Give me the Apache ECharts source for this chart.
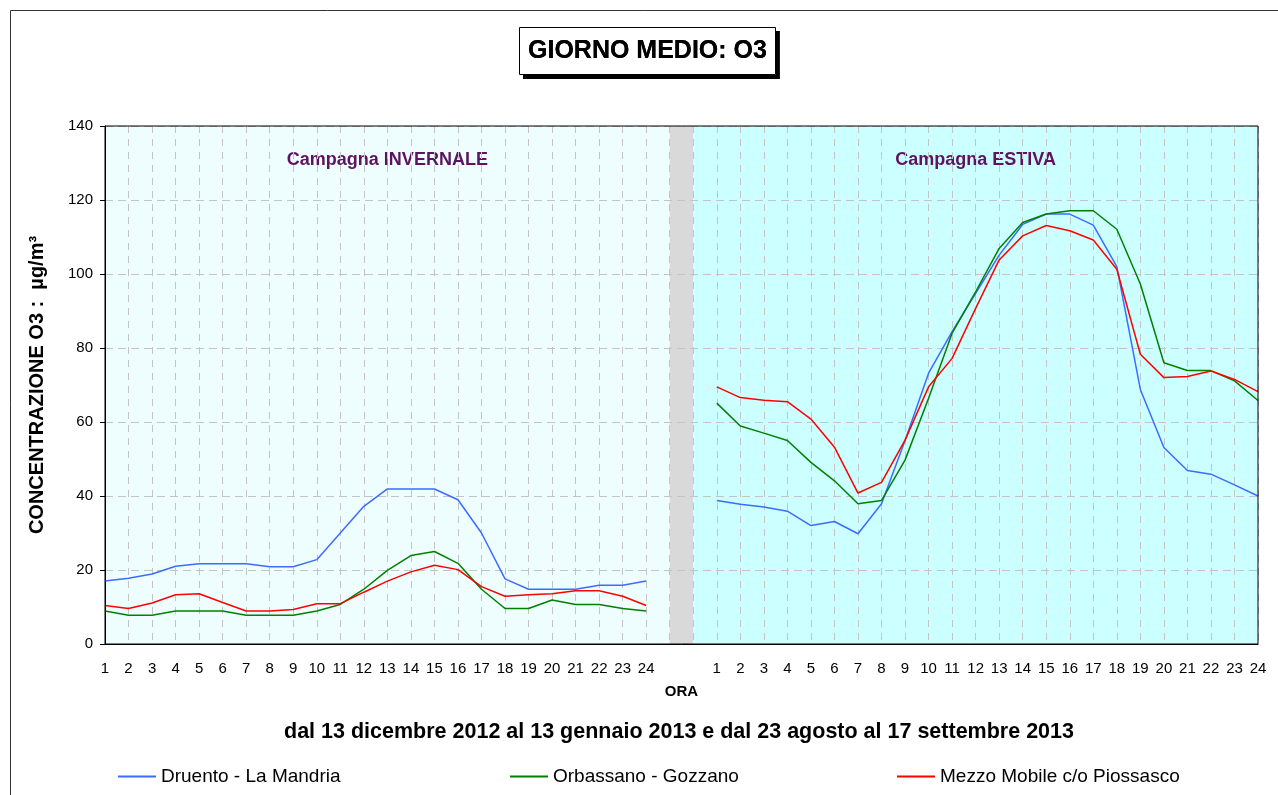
<!DOCTYPE html>
<html>
<head>
<meta charset="utf-8">
<script src="https://cdn.jsdelivr.net/npm/echarts@6/dist/echarts.min.js"></script>
<style>
  html, body { margin: 0; padding: 0; background: #ffffff; }
  #chart { width: 1278px; height: 795px; }
</style>
</head>
<body>
<div id="chart"></div>
<script>
// Hour labels of the mean day (shown once per campaign)
const hours = ['1','2','3','4','5','6','7','8','9','10','11','12','13','14','15','16','17','18','19','20','21','22','23','24'];
// Two empty slots separating the winter and summer campaigns
const gapSlots = ['', ''];

// Winter campaign (13/12/2012 - 13/01/2013), O3 µg/m³
const druentoWinter   = [17, 17.8, 18.9, 21, 21.7, 21.7, 21.7, 20.9, 20.9, 22.8, 30, 37.2, 41.9, 41.9, 41.9, 39, 30, 17.6, 14.8, 14.8, 14.8, 15.9, 15.9, 17];
const orbassanoWinter = [8.9, 7.8, 7.8, 8.9, 8.9, 8.9, 7.8, 7.8, 7.8, 8.9, 10.7, 14.8, 19.9, 23.9, 25, 21.8, 14.8, 9.6, 9.6, 11.9, 10.7, 10.7, 9.6, 8.9];
const mezzoWinter     = [10.4, 9.6, 11.1, 13.3, 13.6, 11.2, 8.9, 8.9, 9.3, 10.9, 10.9, 14, 17, 19.5, 21.3, 20.1, 15.5, 12.9, 13.3, 13.6, 14.4, 14.4, 12.9, 10.4];

// Summer campaign (23/08/2013 - 17/09/2013), O3 µg/m³
const druentoSummer   = [38.8, 37.8, 37, 35.9, 32, 33.1, 29.8, 37.9, 55, 73.2, 84.4, 94.8, 105.1, 113.4, 116.2, 116.2, 113.2, 102, 68.8, 53.1, 46.9, 45.9, 43, 40];
const orbassanoSummer = [65.1, 58.9, 57, 55, 49.1, 44.1, 37.9, 38.8, 49.7, 66.4, 84, 95.2, 106.9, 113.9, 116.2, 117.1, 117.1, 112.1, 97.3, 76, 73.9, 73.9, 71.1, 65.8];
const mezzoSummer     = [69.5, 66.6, 65.9, 65.5, 60.8, 53.2, 40.8, 43.7, 55.1, 69.5, 77.2, 90.7, 103.8, 110.3, 113.1, 111.7, 109.2, 101.3, 78.3, 72, 72.3, 73.8, 71.5, 68.2];

// Y axis ticks
const yTicks = [0, 20, 40, 60, 80, 100, 120, 140];

const categories = hours.concat(gapSlots, hours);
const joinCampaigns = (w, s) => w.concat(gapSlots.map(() => null), s);

const FONT = '"Liberation Sans", Arial, Helvetica, sans-serif';
const winterEnd = hours.length;          // first empty slot
const summerStart = winterEnd + 1;       // second empty slot, where summer panel begins
const lastIndex = categories.length - 1;

const campaignLabel = {
  show: true,
  position: 'insideTop',
  distance: 25,
  color: '#5f1260',
  fontFamily: FONT,
  fontWeight: 'bold',
  fontSize: 18
};

const chart = echarts.init(document.getElementById('chart'), null, { renderer: 'canvas' });

const lineSeries = (name, color, data, extra) => Object.assign({
  name: name,
  type: 'line',
  data: data,
  symbol: 'none',
  connectNulls: false,
  lineStyle: { color: color, width: 1.5 },
  itemStyle: { color: color },
  emphasis: { disabled: true },
  z: 2
}, extra || {});

const TITLE = 'GIORNO MEDIO: O3';
const titleBox = {
  text: TITLE,
  left: 519, top: 27,
  padding: [12, 9, 11, 9],
  textStyle: { fontFamily: FONT, fontWeight: 'bold', fontSize: 25, color: '#000' }
};

chart.setOption({
  animation: false,
  backgroundColor: '#ffffff',
  graphic: [{
    type: 'rect',
    shape: { x: 10.5, y: 10.5, width: 1300, height: 820 },
    style: { fill: 'none', stroke: '#333', lineWidth: 1 },
    silent: true
  }],
  title: [
    // drop shadow of the title box
    Object.assign({}, titleBox, {
      backgroundColor: '#ffffff',
      shadowColor: '#000',
      shadowBlur: 0,
      shadowOffsetX: 4,
      shadowOffsetY: 4
    }),
    // framed title on top
    Object.assign({}, titleBox, {
      backgroundColor: '#ffffff',
      borderColor: '#000',
      borderWidth: 1
    }),
    {
      text: 'dal 13 dicembre 2012 al 13 gennaio 2013 e dal 23 agosto al 17 settembre 2013',
      left: 679, top: 721, textAlign: 'center',
      padding: 0,
      textStyle: { fontFamily: FONT, fontWeight: 'bold', fontSize: 21.5, color: '#000' }
    }
  ],
  legend: [
    { data: ['Druento - La Mandria'], left: 118, top: 767 },
    { data: ['Orbassano - Gozzano'], left: 510, top: 767 },
    { data: ['Mezzo Mobile c/o Piossasco'], left: 897, top: 767 }
  ].map(l => Object.assign({
    icon: 'rect',
    itemWidth: 38, itemHeight: 2, itemGap: 8,
    padding: 0,
    textStyle: { fontFamily: FONT, fontSize: 19, color: '#000' },
    selectedMode: false
  }, l)),
  grid: {
    left: 105, right: 20, top: 126, bottom: 151,
    show: true, borderColor: '#000', borderWidth: 1,
    backgroundColor: 'transparent', z: 3
  },
  xAxis: {
    type: 'category',
    data: categories,
    boundaryGap: false,
    z: 1.5,
    name: 'ORA',
    nameLocation: 'middle',
    nameGap: 40,
    nameTextStyle: { fontFamily: FONT, fontWeight: 'bold', fontSize: 15, color: '#000' },
    axisLine: { lineStyle: { color: '#000', width: 1 } },
    axisTick: { show: false },
    axisLabel: { interval: 0, margin: 17, fontFamily: FONT, fontSize: 15, color: '#000' },
    splitLine: { show: true, interval: 0, lineStyle: { color: '#c4c4c4', type: [7, 6], width: 1 } }
  },
  yAxis: {
    type: 'value',
    min: yTicks[0], max: yTicks[yTicks.length - 1], interval: 20,
    z: 1.5,
    name: 'CONCENTRAZIONE O3 :  µg/m³',
    nameLocation: 'middle',
    nameGap: 58,
    nameTextStyle: { fontFamily: FONT, fontWeight: 'bold', fontSize: 20, color: '#000' },
    axisLine: { show: true, lineStyle: { color: '#000', width: 1 } },
    axisTick: { show: true, inside: false, length: 5, lineStyle: { color: '#000' } },
    axisLabel: { margin: 12, fontFamily: FONT, fontSize: 15, color: '#000' },
    splitLine: { show: true, lineStyle: { color: '#c4c4c4', type: [8, 5], width: 1 } }
  },
  series: [
    lineSeries('Druento - La Mandria', '#3d6bff', joinCampaigns(druentoWinter, druentoSummer), {
      markArea: {
        silent: true,
        z: 1,
        emphasis: { disabled: true },
        data: [
          [{ name: 'Campagna INVERNALE', xAxis: 0, itemStyle: { color: '#eefefe' }, label: campaignLabel }, { xAxis: winterEnd }],
          [{ name: '', xAxis: winterEnd, itemStyle: { color: '#d9d9d9' } }, { xAxis: summerStart }],
          [{ name: 'Campagna ESTIVA', xAxis: summerStart, itemStyle: { color: '#ccffff' }, label: campaignLabel }, { xAxis: lastIndex }]
        ]
      }
    }),
    lineSeries('Orbassano - Gozzano', '#008000', joinCampaigns(orbassanoWinter, orbassanoSummer)),
    lineSeries('Mezzo Mobile c/o Piossasco', '#ff0000', joinCampaigns(mezzoWinter, mezzoSummer))
  ]
});
</script>
</body>
</html>
